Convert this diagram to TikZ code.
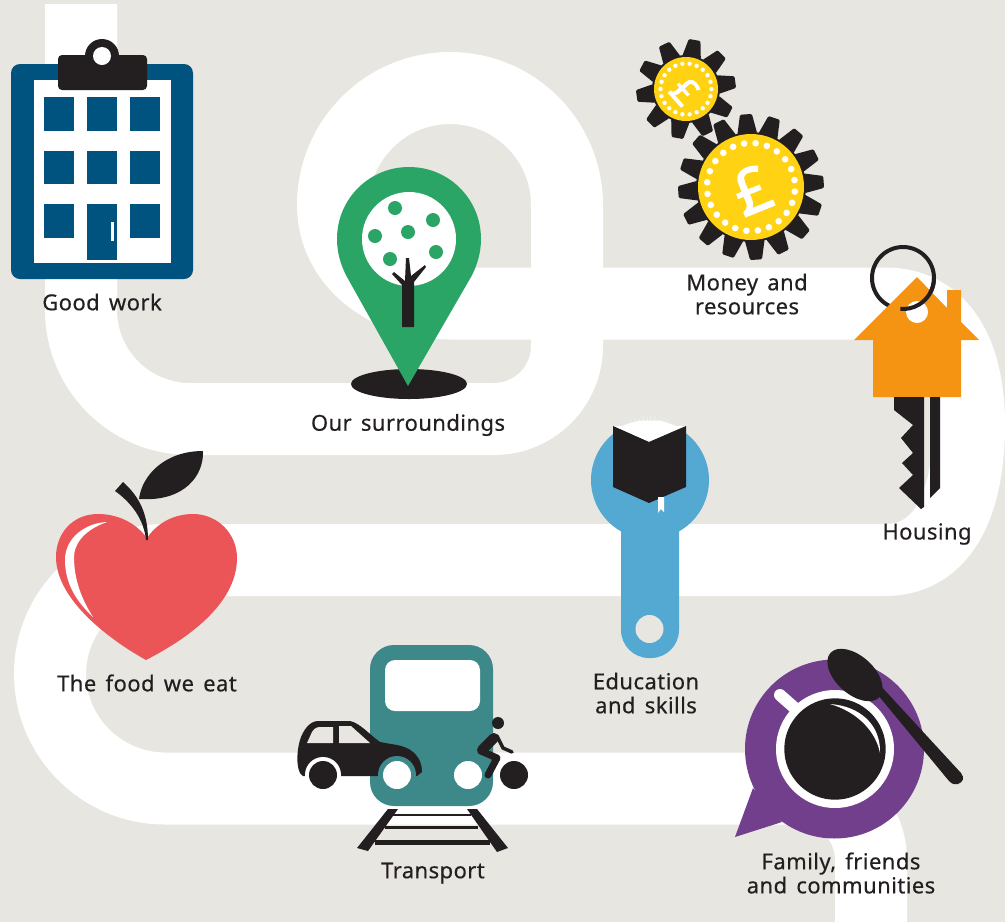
\documentclass[tikz,border=0pt]{standalone}
\usepackage{fontspec}
\setmainfont{Noto Sans}[LetterSpace=2,WordSpace=1.5,FakeBold=0.35]
\newfontfamily\poundfont{Noto Sans}[FakeBold=2.2,BoldFont={Noto Sans}]
\definecolor{bgc}{HTML}{E8E6E1}
\definecolor{ink}{HTML}{231F20}
\definecolor{navy}{HTML}{00527F}
\definecolor{pingreen}{HTML}{2BA566}
\definecolor{gold}{HTML}{FFD214}
\definecolor{keyorange}{HTML}{F59313}
\definecolor{wrenchblue}{HTML}{53A9D1}
\definecolor{cuppurple}{HTML}{723F8C}
\definecolor{trainteal}{HTML}{3D8889}
\definecolor{applered}{HTML}{EC5558}
\tikzset{
  lbl/.style={text=ink,align=center,inner sep=0pt,font=\fontsize{22}{24}\selectfont},
  road/.style={draw=white,line width=72pt,line join=round},
  gearblack/.style={fill=ink,draw=ink,line width=3pt,line join=round},
  pound/.style={text=white,inner sep=0pt}
}
\newcommand{\geardraw}[9]{%
  \begin{scope}[shift={(#1,#2)}]
    \fill[ink] (0,0) circle (#5);
    \foreach \k in {1,...,#3}{
      \pgfmathsetmacro{\aa}{#4+360/#3*\k}
      \path[gearblack] ({\aa-#7}:#5) -- ({\aa-#8}:#6) -- ({\aa+#8}:#6) -- ({\aa+#7}:#5) -- cycle;
    }
    \fill[gold] (0,0) circle (#9);
  \end{scope}}
\newcommand{\geardots}[6]{%
  \begin{scope}[shift={(#1,#2)}]
    \foreach \k in {1,...,#3}{
      \pgfmathsetmacro{\aa}{#6+360/#3*\k}
      \fill[white] (\aa:#4) circle (#5);
    }
  \end{scope}}
\begin{document}
\begin{tikzpicture}[x=1pt,y=-1pt]
\fill[bgc] (0,0) rectangle (1005,922);
\useasboundingbox (0,0) rectangle (1005,922);
% road
\path[road] (81,4) -- (81,310) .. controls (81,370.2) and (129.8,419) .. (190,419)
 -- (494,419) .. controls (534.3,419) and (567,386.3) .. (567,346)
 -- (567,205) .. controls (567,140.4) and (514.6,88) .. (450,88)
 .. controls (385.4,88) and (333,140.4) .. (333,205)
 .. controls (333,262) and (385,303.5) .. (450,303.5)
 -- (885,303.5) .. controls (940,303.5) and (969,350) .. (969,425)
 .. controls (969,500) and (945,560) .. (885,560)
 -- (165,560) .. controls (102,560) and (50,611) .. (50,674)
 .. controls (50,737) and (102,788.5) .. (165,788.5)
 -- (800,788.5) .. controls (839,788.5) and (871,820) .. (871,860) -- (871,922);
% good work
\fill[navy,rounded corners=9pt] (11,64) rectangle (193,279);
\fill[white] (34,80) rectangle (171,263);
\foreach \xx in {44,87,130}{
  \foreach \yy in {97,150.5,204}{
    \fill[navy] (\xx,\yy) rectangle ++(30,33.5);
  }
}
\fill[navy] (87,230) rectangle (117,260);
\fill[white] (111,222) rectangle (114,241);
\fill[ink] (102,56) circle (17);
\fill[ink,rounded corners=4pt] (58,55) rectangle (147,90);
\fill[white] (102,56) circle (9);
\node[lbl] (goodwork) at (102,302) {Good work};
% surroundings
\fill[ink] (409,384) ellipse [x radius=58,y radius=15];
\fill[pingreen] (408,386) -- (347,277) .. controls (341,266) and (337,253) .. (337,239)
  .. controls (337,199) and (369,167) .. (409,167)
  .. controls (449,167) and (481,199) .. (481,239)
  .. controls (481,253) and (477,266) .. (471,277) -- cycle;
\fill[white] (409,239) circle (47);
\foreach \p/\q in {395/208,433/220,375/236,408/232,436/252,390/259}{
  \fill[pingreen] (\p,\q) circle (7);
}
\fill[ink] (402,327) -- (402,285) -- (392,274) -- (394,272) -- (405,281) -- (406,258) -- (409,258)
  -- (411,276) -- (425,265) -- (426,267) -- (414,282) -- (414,327) -- cycle;
\node[lbl] (surroundings) at (408,425) {Our surroundings};
% money
\geardraw{686}{89}{10}{-8}{34}{48.5}{13}{5.5}{32}
\geardots{686}{89}{22}{25.5}{2.2}{0}
\node[pound,font=\poundfont\fontsize{38}{38}\selectfont,rotate=-48] (poundsmall) at (685,91) {£};
\geardraw{751}{187}{16}{-4}{55}{71.5}{8.5}{3.8}{53}
\geardots{751}{187}{24}{44}{3.3}{6}
\node[pound,font=\poundfont\fontsize{62}{62}\selectfont,rotate=22] (poundbig) at (752,190) {£};
\node[lbl] (money) at (747,294) {Money and\\resources};
% housing
\draw[ink,line width=4pt] (903,278) circle (31);
\fill[keyorange] (917,277) -- (947,308) -- (947,290) -- (961,290) -- (961,322) -- (979,340)
  -- (961,340) -- (961,397) -- (873,397) -- (873,340) -- (854,340) -- cycle;
\fill[white] (917,312) circle (11);
\draw[ink,line width=4pt] (934,278) arc [start angle=0,end angle=95,radius=31];
\fill[ink] (894,397) -- (894,410) -- (913,425) -- (901,438) -- (913,453) -- (902,463) -- (913,475)
  -- (899,488) -- (921,509) -- (924,507) -- (924,397) -- cycle;
\fill[ink] (930,397) -- (940,397) -- (940,488) -- (930,498) -- cycle;
\node[lbl] (housing) at (927,534) {Housing};
% education
\fill[wrenchblue] (650,480) circle (59);
\fill[wrenchblue,rounded corners=28pt] (621,500) -- (621,658) -- (679,658) -- (679,500) -- cycle;
\fill[wrenchblue] (621,500) rectangle (679,560);
\fill[bgc] (649.5,629) circle (14);
\fill[white] (613,426) -- (649,442) -- (686,426) -- (676,426) -- (668,423) -- (660,420.5) -- (640,420.5) -- (630,423) -- (622,426) -- cycle;
\foreach \a in {-142,-134,...,-38}{
  \fill[white] ({649+16*cos(\a-3)},{446+16*sin(\a-3)}) -- ({649+(29+3*abs(sin(5*\a)))*cos(\a)},{446+(29+3*abs(sin(5*\a)))*sin(\a)}) -- ({649+16*cos(\a+3)},{446+16*sin(\a+3)}) -- cycle;
}
\fill[ink] (613,426) -- (649,442) -- (686,426) -- (686,487) -- (649,503) -- (613,487) -- cycle;
\fill[white] (658,497) -- (664,497) -- (664,512) -- (661,509) -- (658,513) -- cycle;
\node[lbl] (education) at (646,693) {Education\\and skills};
% transport
\fill[ink] (388,809) -- (398,809) -- (368,851) -- (357,848) -- cycle;
\fill[ink] (467,809) -- (477,809) -- (508,848) -- (497,852) -- cycle;
\fill[ink] (392,814) rectangle (471,816);
\fill[ink] (385,826) rectangle (478,829);
\fill[ink] (375,840) rectangle (490,845);
\fill[trainteal,rounded corners=24pt] (370,645) rectangle (493,806);
\fill[white,rounded corners=10pt] (385,660) rectangle (480,711);
\fill[ink] (300,773) .. controls (296,765) and (297,750) .. (300,740)
  .. controls (303,730) and (310,721) .. (318,721) -- (350,721)
  .. controls (360,723) and (370,735) .. (380,742)
  .. controls (395,745) and (405,745) .. (413,752)
  .. controls (420,758) and (422,765) .. (422,772) -- (417,776) -- (303,776) -- cycle;
\fill[bgc] (307,743) -- (312,732) .. controls (315,727) and (318,727) .. (322,727) -- (333,727) -- (333,743) -- cycle;
\fill[bgc] (339,726) -- (351,726) -- (370,743) -- (339,743) -- cycle;
\fill[white] (323,775) circle (18);
\fill[ink] (323,775) circle (14);
\fill[trainteal] (397,775) circle (19);
\fill[white] (397,775) circle (14);
\fill[white] (468,775) circle (14);
\fill[ink] (514,775) circle (14);
\fill[ink] (498,723) circle (6);
\draw[ink,line width=10pt,line cap=round,line join=round] (494,738) -- (482,750);
\draw[ink,line width=7pt,line cap=round,line join=round] (481,751) -- (497,758) -- (488,775);
\draw[ink,line width=3.5pt,line cap=round,line join=round] (497,736) -- (503,748) -- (512,752);
\node[lbl] (transport) at (433,873) {Transport};
% food
\fill[applered] (147,538) .. controls (135,522) and (117,514) .. (98,514)
  .. controls (72,514) and (56,534) .. (56,557)
  .. controls (56,600) and (110,640) .. (146,660)
  .. controls (185,640) and (237,605) .. (237,558)
  .. controls (237,534) and (218,514) .. (193,514)
  .. controls (175,514) and (158,522) .. (147,538) -- cycle;
\fill[white] (107,522) .. controls (85,523) and (65,538) .. (65,560)
  .. controls (65,585) and (78,603) .. (93,617)
  .. controls (82,600) and (74,580) .. (74,557)
  .. controls (74,544) and (84,530) .. (107,522) -- cycle;
\fill[ink] (123,482) .. controls (140,497) and (148,515) .. (148,540) -- (146,540)
  .. controls (144,520) and (132,503) .. (115,491) -- cycle;
\fill[ink] (139,499) .. controls (142,475) and (165,451) .. (203,451)
  .. controls (204,475) and (185,502) .. (139,499) -- cycle;
\node[lbl] (food) at (147,683) {The food we eat};
% family
\fill[cuppurple] (834.5,749) circle (89.5);
\fill[cuppurple] (735,837) -- (753,788) -- (782,822) -- cycle;
\draw[white,line width=12pt,line cap=round] (780,695) -- (797,710);
\fill[white] (835,749) circle (59);
\fill[ink] (835,749) circle (50.7);
\fill[white] (830,704) .. controls (860,706) and (881,725) .. (880,753)
  .. controls (876,732) and (858,712) .. (830,704) -- cycle;
\fill[ink,shift={(855,675)},rotate=-42] (0,0) ellipse [x radius=33,y radius=19];
\fill[ink] (873,689) -- (879,684) -- (961,773) .. controls (965,778) and (963,782) .. (958,784)
  .. controls (955,785) and (952,784) .. (949,781) -- cycle;
\node[lbl] (family) at (841,873) {Family, friends\\and communities};
\end{tikzpicture}
\end{document}
